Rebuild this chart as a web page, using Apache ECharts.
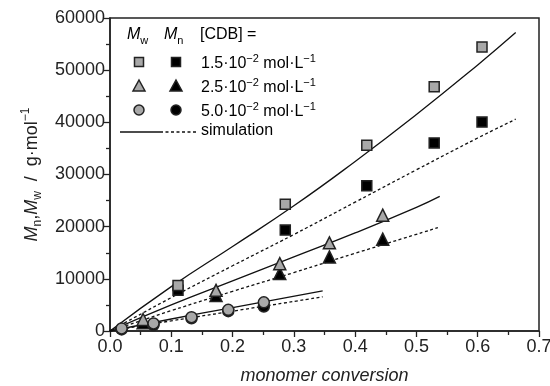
<!DOCTYPE html>
<html>
<head>
<meta charset="utf-8">
<script src="https://cdn.jsdelivr.net/npm/echarts@6/dist/echarts.min.js"></script>
<style>
  html, body { margin: 0; padding: 0; background: #fff; }
  #chart { width: 550px; height: 386px; }
</style>
</head>
<body>
<div id="chart"></div>
<script>
// measured points [conversion, molar mass]
const mw15 = [[0.111, 8700], [0.286, 24300], [0.419, 35600], [0.529, 46800], [0.607, 54450]];
const mn15 = [[0.111, 7800], [0.286, 19350], [0.419, 27850], [0.529, 36050], [0.607, 40050]];
const mw25 = [[0.054, 2200], [0.173, 7800], [0.277, 12900], [0.358, 16900], [0.445, 22200]];
const mn25 = [[0.054, 1600], [0.173, 6800], [0.277, 11000], [0.358, 14200], [0.445, 17600]];
const mw50 = [[0.019, 500], [0.071, 1450], [0.133, 2650], [0.193, 4050], [0.251, 5500]];
const mn50 = [[0.019, 300], [0.071, 1150], [0.133, 2450], [0.193, 3800], [0.251, 4700]];

// simulation curves
const sim15w = [[0, 0], [0.1, 8500], [0.2, 16200], [0.3, 24000], [0.4, 32500], [0.5, 41500], [0.6, 51000], [0.662, 57200]];
const sim15n = [[0, 0], [0.1, 6400], [0.2, 12500], [0.3, 18500], [0.4, 24700], [0.5, 30900], [0.6, 37000], [0.662, 40600]];
const sim25w = [[0, 0], [0.1, 5000], [0.2, 9600], [0.3, 14200], [0.4, 18800], [0.5, 23700], [0.538, 25800]];
const sim25n = [[0, 0], [0.1, 3900], [0.2, 7600], [0.3, 11200], [0.4, 14900], [0.535, 19800]];
const sim50w = [[0, 0], [0.1, 2300], [0.2, 4500], [0.347, 7700]];
const sim50n = [[0, 0], [0.1, 1950], [0.2, 3800], [0.347, 6550]];

const legendRows = ["1.5", "2.5", "5.0"];

const FONT = "Liberation Sans, Arial, sans-serif";
const TXT = "#222";
const GRAY = "#a8a8a8";

let chart = echarts.init(document.getElementById("chart"));

function scatter(data, symbol, size, fill) {
  return {
    type: "scatter",
    data: data,
    symbol: symbol,
    symbolSize: size,
    z: 5,
    itemStyle: { color: fill, borderColor: "#222", borderWidth: 1.5, opacity: 1 }
  };
}
function line(data, dashed) {
  return {
    type: "line",
    data: data,
    smooth: true,
    showSymbol: false,
    silent: true,
    z: 3,
    lineStyle: { color: "#111", width: 1.3, type: dashed ? [3, 2.5] : "solid" }
  };
}

const sub = { fontSize: 11, fontFamily: FONT, color: TXT, verticalAlign: "bottom", lineHeight: 22 };
const sup = { fontSize: 11, fontFamily: FONT, color: TXT, verticalAlign: "top", lineHeight: 22 };
const base = { fontSize: 16, fontFamily: FONT, color: TXT, lineHeight: 22 };
const ital = { fontSize: 16, fontFamily: FONT, color: TXT, fontStyle: "italic", lineHeight: 22 };

// legend key graphics
let g = [];
g.push({
  type: "text", left: 127, top: 27,
  style: { text: "{i|M}{s|w}", rich: { i: ital, s: sub } }
});
g.push({
  type: "text", left: 164, top: 27,
  style: { text: "{i|M}{s|n}", rich: { i: ital, s: sub } }
});
g.push({
  type: "text", left: 200, top: 27,
  style: { text: "{b|[CDB] =}", rich: { b: base } }
});
const rowY = [62, 86, 110];
legendRows.forEach(function (c, k) {
  let y = rowY[k];
  let shapes = [];
  if (k === 0) {
    shapes.push({ type: "rect", shape: { x: 134.5, y: y - 4.5, width: 9, height: 9 }, style: { fill: GRAY, stroke: "#222", lineWidth: 1.5 } });
    shapes.push({ type: "rect", shape: { x: 171.5, y: y - 4.5, width: 9, height: 9 }, style: { fill: "#000", stroke: "#222", lineWidth: 1.5 } });
  } else if (k === 1) {
    shapes.push({ type: "polygon", shape: { points: [[139, y - 6], [145, y + 5], [133, y + 5]] }, style: { fill: GRAY, stroke: "#222", lineWidth: 1.5 } });
    shapes.push({ type: "polygon", shape: { points: [[176, y - 6], [182, y + 5], [170, y + 5]] }, style: { fill: "#000", stroke: "#222", lineWidth: 1.5 } });
  } else {
    shapes.push({ type: "circle", shape: { cx: 139, cy: y, r: 5 }, style: { fill: GRAY, stroke: "#222", lineWidth: 1.5 } });
    shapes.push({ type: "circle", shape: { cx: 176, cy: y, r: 5 }, style: { fill: "#000", stroke: "#222", lineWidth: 1.5 } });
  }
  shapes.forEach(function (s) { g.push(s); });
  g.push({
    type: "text", left: 201, top: y - 9,
    style: { text: "{b|" + c + "·10}{u|−2}{b| mol·L}{u|−1}", rich: { b: base, u: sup } }
  });
});
g.push({ type: "line", shape: { x1: 120, y1: 132, x2: 160, y2: 132 }, style: { stroke: "#111", lineWidth: 1.3 } });
g.push({ type: "line", shape: { x1: 160, y1: 132, x2: 197, y2: 132 }, style: { stroke: "#111", lineWidth: 1.3, lineDash: [3, 2.5] } });
g.push({ type: "text", left: 201, top: 123, style: { text: "{b|simulation}", rich: { b: base } } });

let option = {
  animation: false,
  backgroundColor: "#fff",
  grid: { left: 110, right: 11, top: 18, bottom: 55, outerBoundsMode: "none", show: true, borderColor: "#222", borderWidth: 1.5 },
  xAxis: {
    type: "value",
    min: 0,
    max: 0.7,
    interval: 0.1,
    name: "monomer conversion",
    nameLocation: "middle",
    nameGap: 36,
    nameTextStyle: { fontSize: 18, fontStyle: "italic", fontFamily: FONT, color: TXT },
    axisLine: { show: true, lineStyle: { color: "#222", width: 1.5 } },
    axisTick: { show: true, inside: false, length: 6, lineStyle: { color: "#222", width: 1.3 } },
    minorTick: { show: true, splitNumber: 2, length: 4, lineStyle: { color: "#222", width: 1.3 } },
    axisLabel: { fontSize: 18, fontFamily: FONT, color: TXT, margin: 7, formatter: function (v) { return v.toFixed(1); } },
    splitLine: { show: false }
  },
  yAxis: {
    type: "value",
    min: 0,
    max: 60000,
    interval: 10000,
    name: "{i|M}{s|n}{b|,}{i|M}{s|w}{b|  /  g·mol}{u|−1}",
    nameLocation: "middle",
    nameRotate: 90,
    nameGap: 65,
    nameTextStyle: {
      rich: {
        i: { fontSize: 18, fontStyle: "italic", fontFamily: FONT, color: TXT, lineHeight: 24 },
        b: { fontSize: 18, fontFamily: FONT, color: TXT, lineHeight: 24 },
        s: { fontSize: 12, fontFamily: FONT, color: TXT, verticalAlign: "bottom", lineHeight: 24 },
        u: { fontSize: 12, fontFamily: FONT, color: TXT, verticalAlign: "top", lineHeight: 24 }
      }
    },
    axisLine: { show: true, lineStyle: { color: "#222", width: 1.5 } },
    axisTick: { show: true, inside: false, length: 6, lineStyle: { color: "#222", width: 1.3 } },
    minorTick: { show: true, splitNumber: 2, length: 4, lineStyle: { color: "#222", width: 1.3 } },
    axisLabel: { fontSize: 18, fontFamily: FONT, color: TXT, margin: 5, formatter: function (v) { return String(v); } },
    splitLine: { show: false }
  },
  graphic: g,
  series: [
    line(sim15w, false), line(sim15n, true),
    line(sim25w, false), line(sim25n, true),
    line(sim50w, false), line(sim50n, true),
    scatter(mn15, "rect", 10, "#000"), scatter(mw15, "rect", 10, GRAY),
    scatter(mn25, "triangle", 12, "#000"), scatter(mw25, "triangle", 12, GRAY),
    scatter(mn50, "circle", 11, "#000"), scatter(mw50, "circle", 11, GRAY)
  ]
};
chart.setOption(option);
</script>
</body>
</html>
